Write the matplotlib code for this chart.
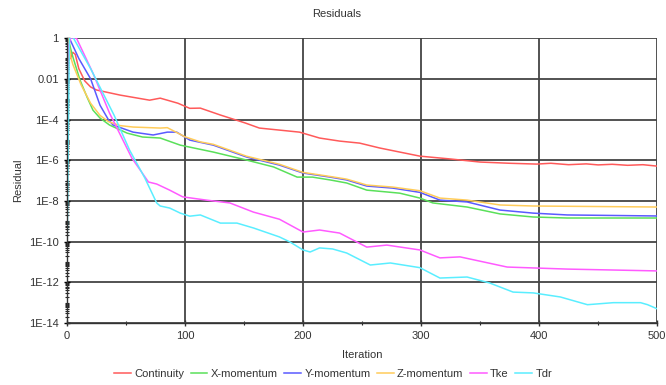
import numpy as np
import matplotlib.pyplot as plt
from matplotlib.ticker import LogLocator, FixedLocator, NullFormatter

plt.rcParams['font.family'] = ['Liberation Sans', 'DejaVu Sans']

# residuals, stored as log10 values
cont_it = [0, 1, 3, 5, 7, 10, 15, 20, 25, 45, 70, 79, 94, 104, 113, 130, 151, 163, 180, 197,
           214, 231, 248, 265, 282, 299, 325, 350, 375, 398, 410, 425, 440, 450, 462, 475, 488, 500]
cont_lg = [-3.0, 0, -1.0, -0.7, -0.8, -1.5, -2.1, -2.4, -2.55, -2.8, -3.05, -2.95, -3.2, -3.45,
           -3.44, -3.78, -4.17, -4.42, -4.52, -4.62, -4.91, -5.06, -5.16, -5.4, -5.6, -5.8,
           -5.94, -6.09, -6.15, -6.19, -6.15, -6.22, -6.18, -6.23, -6.2, -6.25, -6.22, -6.29]

xmom_it = [0, 1, 3, 5, 11, 17, 22, 28, 36, 51, 64, 79, 96, 124, 152, 175, 195, 208, 223, 237,
           254, 271, 282, 299, 310, 339, 367, 395, 424, 500]
xmom_lg = [-2.0, 0, -0.5, -0.93, -2.06, -2.9, -3.54, -3.93, -4.27, -4.67, -4.86, -4.91, -5.26,
           -5.6, -5.99, -6.33, -6.83, -6.83, -6.97, -7.12, -7.47, -7.56, -7.62, -7.86, -8.1,
           -8.3, -8.64, -8.79, -8.84, -8.84]

ymom_it = [0, 1, 2, 10, 20, 28, 35, 39, 56, 73, 85, 93, 104, 124, 152, 180, 200, 223, 237, 254,
           276, 299, 316, 339, 367, 395, 424, 500]
ymom_lg = [-2.0, 0, 0, -1.0, -2.0, -3.3, -4.0, -4.27, -4.62, -4.76, -4.62, -4.62, -5.01, -5.26,
           -5.84, -6.24, -6.63, -6.83, -6.97, -7.27, -7.37, -7.58, -7.96, -8.05, -8.45, -8.6,
           -8.69, -8.74]

zmom_it = [0, 1, 3, 5, 12, 20, 28, 35, 45, 56, 70, 79, 85, 100, 113, 124, 152, 180, 200, 223,
           237, 254, 276, 299, 316, 339, 367, 395, 500]
zmom_lg = [-2.0, 0, -0.9, -1.3, -2.3, -3.2, -3.8, -4.1, -4.3, -4.37, -4.4, -4.42, -4.4, -4.85,
           -5.1, -5.22, -5.8, -6.2, -6.6, -6.8, -6.93, -7.22, -7.32, -7.5, -7.86, -7.96, -8.2,
           -8.25, -8.3]

tke_it = [0, 1, 3, 8, 22, 36, 55, 62, 69, 76, 87, 98, 118, 138, 158, 180, 200, 214, 231, 254,
          271, 299, 316, 333, 353, 373, 424, 500]
tke_lg = [-6.6, -0.5, 0, 0, -1.72, -3.68, -5.9, -6.48, -7.07, -7.17, -7.47, -7.8, -7.96, -8.1,
          -8.55, -8.9, -9.53, -9.43, -9.58, -10.27, -10.17, -10.41, -10.8, -10.75, -11.0,
          -11.25, -11.35, -11.44]

tdr_it = [0, 2, 5, 20, 40, 53, 66, 76, 79, 87, 96, 104, 113, 130, 144, 158, 180, 189, 200, 206,
          214, 225, 237, 257, 274, 299, 316, 339, 358, 378, 395, 418, 441, 463, 486, 492, 500]
tdr_lg = [-11.1, 0, 0.05, -1.5, -3.8, -5.5, -6.88, -8.1, -8.25, -8.35, -8.6, -8.75, -8.69, -9.09,
          -9.09, -9.33, -9.77, -10.02, -10.41, -10.51, -10.31, -10.36, -10.56, -11.15, -11.05,
          -11.28, -11.79, -11.74, -12.03, -12.48, -12.52, -12.72, -13.1, -13.0, -13.0, -13.1,
          -13.3]

series = [
    ("Continuity", cont_it, cont_lg, "#ff5a5a"),
    ("X-momentum", xmom_it, xmom_lg, "#5ae05a"),
    ("Y-momentum", ymom_it, ymom_lg, "#5a5aff"),
    ("Z-momentum", zmom_it, zmom_lg, "#ffcc5a"),
    ("Tke", tke_it, tke_lg, "#ff5aff"),
    ("Tdr", tdr_it, tdr_lg, "#5aeeff"),
]

fig = plt.figure(figsize=(6.66, 3.85), dpi=100)
ax = fig.add_axes([0.1006, 0.161, 0.886, 0.74])

for name, it, lg, col in series:
    ax.plot(it, 10.0 ** np.array(lg), color=col, lw=1.1, label=name)

ax.set_yscale("log")
ax.set_xlim(0, 500)
ax.set_ylim(1e-14, 1)

ax.set_xticks([0, 100, 200, 300, 400, 500])
ax.xaxis.set_minor_locator(FixedLocator([50, 150, 250, 350, 450]))
major_y = [10.0 ** -k for k in range(0, 15, 2)]
ax.yaxis.set_major_locator(FixedLocator(major_y))
ax.set_yticklabels(["1", "0.01", "1E-4", "1E-6", "1E-8", "1E-10", "1E-12", "1E-14"])
ax.yaxis.set_minor_locator(LogLocator(base=10, subs=np.arange(1, 10), numticks=100))
ax.yaxis.set_minor_formatter(NullFormatter())

ax.tick_params(axis="both", which="major", direction="inout", length=5, width=1,
               labelsize=8, colors="#333333", labelcolor="#333333")
ax.tick_params(axis="both", which="minor", direction="inout", length=3, width=0.8,
               colors="#222222")
ax.tick_params(axis="y", which="major", colors="black", labelcolor="#333333")

ax.grid(True, which="major", color="#444444", lw=1.3)
ax.set_axisbelow(True)
for s in ["top", "right"]:
    ax.spines[s].set_visible(False)
for s in ["left", "bottom"]:
    ax.spines[s].set_color("#333333")
    ax.spines[s].set_linewidth(1.0)

ax.set_xlabel("Iteration", fontsize=8, color="#333333", labelpad=6)
ax.set_ylabel("Residual", fontsize=8, color="#333333", labelpad=4)
fig.text(0.506, 0.963, "Residuals", ha="center", va="center", fontsize=8, color="#333333")

fig.legend(loc="center", bbox_to_anchor=(0.5, 0.029), ncol=6, frameon=False, fontsize=8,
           handlelength=1.5, handletextpad=0.3, columnspacing=0.6, labelcolor="#333333")

fig.savefig("out.png", dpi=100)
